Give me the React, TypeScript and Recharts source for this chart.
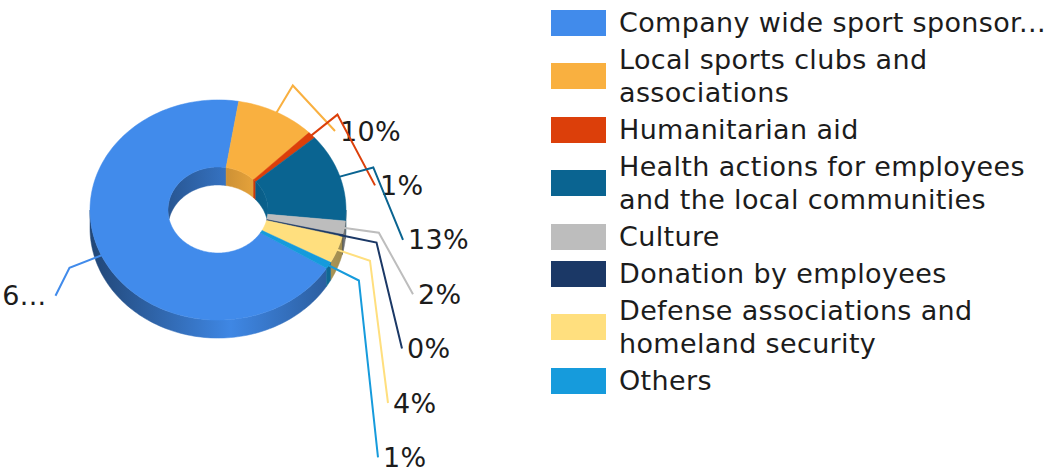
import React from "react";
import { PieChart, Pie, Cell, Legend } from "recharts";

const categories = [
  "Company wide sport sponsor...",
  "Local sports clubs and associations",
  "Humanitarian aid",
  "Health actions for employees and the local communities",
  "Culture",
  "Donation by employees",
  "Defense associations and homeland security",
  "Others",
];
const shares = [68.7, 10, 1, 13, 2, 0.3, 4, 1];
const colors = ["#418BEB", "#F9B040", "#DC3F0A", "#0A6491", "#BDBDBD", "#1B3866", "#FFDF7E", "#169BDC"];

const data = categories.map((name, i) => ({ name, value: shares[i] }));

// layout
const CX = 218;
const CY = 210;
const OUTER = 128;
const INNER = 50;
const TILT = 0.86; // vertical squash of the donut
const DEPTH = 18; // wall height
const FONT = '"DejaVu Sans", Verdana, sans-serif';
const TEXT = "#1c1c1c";
const slotTop = 131;
const slotStep = 54.4;
const slotX = [340, 380, 408, 418, 407, 393, 383];

const RAD = Math.PI / 180;

function ept(cx: number, cy: number, r: number, deg: number): [number, number] {
  return [cx + r * Math.cos(deg * RAD), cy - r * TILT * Math.sin(deg * RAD)];
}

function sweep(a: number, b: number) {
  const n = Math.max(2, Math.ceil(Math.abs(b - a) / 1.5));
  return Array.from({ length: n + 1 }, (_, i) => a + ((b - a) * i) / n);
}

const toPath = (pts: [number, number][]) =>
  "M" + pts.map((p) => p[0].toFixed(2) + "," + p[1].toFixed(2)).join("L") + "Z";

// parts of [lo, hi] that fall inside [from, to] (mod 360)
function ranges(lo: number, hi: number, from: number, to: number) {
  const out: [number, number][] = [];
  for (let k = -2; k <= 2; k++) {
    const a = Math.max(lo, from + 360 * k);
    const b = Math.min(hi, to + 360 * k);
    if (b > a) out.push([a, b]);
  }
  return out;
}

function shade(hex: string, f: number) {
  const n = parseInt(hex.slice(1), 16);
  const c = [(n >> 16) & 255, (n >> 8) & 255, n & 255].map((v) => Math.min(255, Math.round(v * f)));
  return `rgb(${c[0]},${c[1]},${c[2]})`;
}

function Sector3D(props: any) {
  const { cx, cy, innerRadius, outerRadius, startAngle, endAngle, fill } = props;
  const lo = Math.min(startAngle, endAngle);
  const hi = Math.max(startAngle, endAngle);
  const id = String(fill).replace("#", "");

  const top = toPath([
    ...sweep(lo, hi).map((a) => ept(cx, cy, outerRadius, a)),
    ...sweep(hi, lo).map((a) => ept(cx, cy, innerRadius, a)),
  ]);

  // front outer wall
  const outerWalls = ranges(lo, hi, 180, 360).map(([a, b]) =>
    toPath([
      ...sweep(a, b).map((t) => ept(cx, cy, outerRadius, t)),
      ...sweep(b, a).map((t) => {
        const p = ept(cx, cy, outerRadius, t);
        return [p[0], p[1] + DEPTH] as [number, number];
      }),
    ])
  );

  // back inner wall seen through the hole
  const innerWalls = ranges(lo, hi, 0, 180).map(([a, b]) =>
    toPath([
      ...sweep(a, b).map((t) => ept(cx, cy, innerRadius, t)),
      ...sweep(b, a).map((t) => {
        const p = ept(cx, cy, innerRadius, t);
        const near = cy + innerRadius * TILT * Math.sin(t * RAD);
        return [p[0], Math.min(p[1] + DEPTH, near)] as [number, number];
      }),
    ])
  );

  return (
    <g>
      <defs>
        <linearGradient id={`ow-${id}`} gradientUnits="userSpaceOnUse" x1={cx - outerRadius} x2={cx + outerRadius} y1={0} y2={0}>
          <stop offset="0%" stopColor={shade(fill, 0.5)} />
          <stop offset="55%" stopColor={shade(fill, 0.97)} />
          <stop offset="100%" stopColor={shade(fill, 0.62)} />
        </linearGradient>
        <linearGradient id={`iw-${id}`} gradientUnits="userSpaceOnUse" x1={cx - innerRadius} x2={cx + innerRadius} y1={0} y2={0}>
          <stop offset="0%" stopColor={shade(fill, 0.62)} />
          <stop offset="100%" stopColor={shade(fill, 0.97)} />
        </linearGradient>
      </defs>
      {outerWalls.map((d, i) => (
        <path key={"o" + i} d={d} fill={`url(#ow-${id})`} stroke={`url(#ow-${id})`} strokeWidth={0.5} />
      ))}
      {innerWalls.map((d, i) => (
        <path key={"i" + i} d={d} fill={`url(#iw-${id})`} stroke={`url(#iw-${id})`} strokeWidth={0.5} />
      ))}
      <path d={top} fill={fill} stroke={fill} strokeWidth={0.5} />
    </g>
  );
}

function renderLabel(props: any) {
  const { cx, cy, midAngle, innerRadius, outerRadius, percent, index } = props;
  const color = colors[index];
  let text = Math.round(percent * 100) + "%";
  const thin = Math.round(percent * 100) === 1;
  const start = ept(cx, cy, thin ? innerRadius + 2 : outerRadius - 3, midAngle);
  const elbow = ept(cx, cy, outerRadius + 35, midAngle);
  const left = Math.cos(midAngle * RAD) < 0;

  let endX: number;
  let endY: number;
  let tx: number;
  if (left) {
    // not enough room on the left: the chart truncates the text
    text = text.slice(0, 1) + "...";
    endX = elbow[0] - 14;
    endY = elbow[1] + 28;
    tx = endX - 9;
  } else {
    const slot = index - 1; // the big slice is the only one on the left
    tx = slotX[slot];
    endX = tx - 5;
    endY = slotTop + slotStep * slot;
  }

  return (
    <g key={"lbl" + index}>
      <polyline
        points={`${start[0]},${start[1]} ${elbow[0]},${elbow[1]} ${endX},${endY}`}
        fill="none"
        stroke={color}
        strokeWidth={2}
      />
      <text
        x={tx}
        y={endY}
        textAnchor={left ? "end" : "start"}
        dominantBaseline="central"
        fontFamily={FONT}
        fontSize={27}
        letterSpacing={0.3}
        fill={TEXT}
      >
        {text}
      </text>
    </g>
  );
}

const renderLegend = () => (
  <div style={{ fontFamily: FONT, fontSize: 27, color: TEXT, letterSpacing: "0.35px" }}>
    {categories.map((c, i) => (
      <div key={c} style={{ display: "flex", alignItems: "center", padding: "2px 0" }}>
        <div style={{ width: 55, height: 26, background: colors[i], flex: "none", marginRight: 13 }} />
        <div style={{ lineHeight: "33px", width: 436 }}>{c}</div>
      </div>
    ))}
  </div>
);

export default function App() {
  return (
    <div style={{ position: "absolute", left: 0, top: 0, background: "#fff" }}>
      <PieChart width={1057} height={472} margin={{ top: 0, right: 0, bottom: 0, left: 0 }}>
        <Pie
          data={data}
          dataKey="value"
          nameKey="name"
          cx={CX}
          cy={CY}
          innerRadius={INNER}
          outerRadius={OUTER}
          startAngle={328}
          endAngle={-32}
          shape={Sector3D}
          activeShape={Sector3D}
          label={renderLabel}
          labelLine={false}
          stroke="none"
          isAnimationActive={false}
        >
          {data.map((d, i) => (
            <Cell key={d.name} fill={colors[i]} />
          ))}
        </Pie>
        <Legend
          layout="vertical"
          align="right"
          verticalAlign="top"
          content={renderLegend}
          wrapperStyle={{ left: 551, top: 4, width: 506 }}
        />
      </PieChart>
    </div>
  );
}
